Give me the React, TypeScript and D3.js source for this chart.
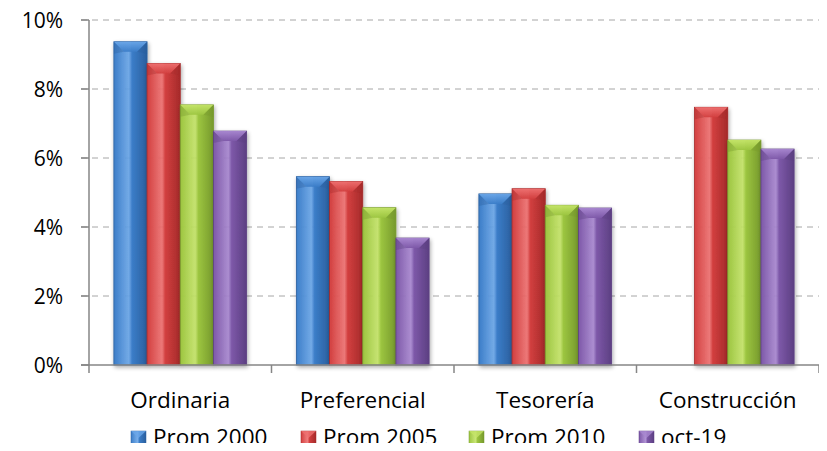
import React from "react";
import * as d3 from "d3";

const categories = ["Ordinaria", "Preferencial", "Tesorería", "Construcción"];
const seriesNames = ["Prom 2000", "Prom 2005", "Prom 2010", "oct-19"];
const prom2000: (number | null)[] = [9.37, 5.46, 4.96, null];
const prom2005: (number | null)[] = [8.74, 5.32, 5.11, 7.47];
const prom2010: (number | null)[] = [7.54, 4.56, 4.63, 6.52];
const oct19: (number | null)[] = [6.78, 3.68, 4.55, 6.26];
const yTicks = [0, 2, 4, 6, 8, 10];

const seriesValues = [prom2000, prom2005, prom2010, oct19];
const colors = [
  { base: "#3B7DC8", light: "#6AA6E8", dark: "#2A5F9E" },
  { base: "#D23F3F", light: "#EE7070", dark: "#A52A2A" },
  { base: "#9CC540", light: "#C4E468", dark: "#76992C" },
  { base: "#7D58A8", light: "#A887D0", dark: "#5C3F82" },
];

const W = 827;
const H = 451;
const left = 89;
const right = 819;
const top = 20;
const bottom = 365;
const FONT = "'Open Sans', Lato, sans-serif";

export default function App() {
  const x0 = d3.scaleBand<string>().domain(categories).range([left, right]).padding(0);
  const bw = x0.bandwidth();
  const gap = (bw * 0.75) / 5.5;
  const x1 = d3.scaleBand<string>().domain(seriesNames).range([gap, bw - gap]).padding(0);
  const y = d3.scaleLinear().domain([0, 10]).range([bottom, top]);

  const legendX = [131, 301, 469, 639];

  return (
    <div style={{ margin: -8 }}>
      <svg width={W} height={H} style={{ display: "block", background: "#fff" }}>
        <defs>
          {colors.map((c, i) => (
            <linearGradient key={i} id={`g${i}`} x1="0" x2="1" y1="0" y2="0">
              <stop offset="0" stopColor={c.base} />
              <stop offset="0.45" stopColor={c.light} stopOpacity={0.9} />
              <stop offset="0.55" stopColor={c.base} />
              <stop offset="1" stopColor={c.dark} />
            </linearGradient>
          ))}
          {colors.map((c, i) => (
            <linearGradient key={"v" + i} id={`v${i}`} x1="0" x2="0" y1="0" y2="1">
              <stop offset="0" stopColor={c.light} />
              <stop offset="1" stopColor={c.base} />
            </linearGradient>
          ))}
          <filter id="sh" x="-20%" y="-5%" width="140%" height="115%">
            <feGaussianBlur in="SourceAlpha" stdDeviation="2" />
            <feOffset dx="1" dy="2" result="b" />
            <feComponentTransfer>
              <feFuncA type="linear" slope="0.35" />
            </feComponentTransfer>
            <feMerge>
              <feMergeNode />
              <feMergeNode in="SourceGraphic" />
            </feMerge>
          </filter>
        </defs>

        {/* grid */}
        {yTicks.filter((t) => t > 0).map((t) => (
          <line key={t} x1={left - 8} x2={right} y1={y(t)} y2={y(t)} stroke="#A6A6A6" strokeWidth={1} strokeDasharray="6,5" />
        ))}

        {/* bars */}
        {categories.map((cat, ci) => (
          <g key={cat}>
            {seriesNames.map((s, si) => {
              const v = seriesValues[si][ci];
              if (v === null || v === undefined) return null;
              const bx = (x0(cat) as number) + (x1(s) as number);
              const w = x1.bandwidth();
              const by = y(v);
              const h = bottom - by;
              const c = colors[si];
              const bev = 10;
              return (
                <g key={s} filter="url(#sh)">
                  <rect x={bx} y={by} width={w} height={h} fill={`url(#g${si})`} stroke={c.dark} strokeWidth={0.8} />
                  <polygon
                    points={`${bx},${by} ${bx + w},${by} ${bx + w - bev},${by + bev} ${bx + bev},${by + bev}`}
                    fill={`url(#v${si})`}
                    opacity={0.95}
                  />
                  <polygon points={`${bx},${by} ${bx + bev},${by + bev} ${bx},${by + bev + 2}`} fill={c.dark} opacity={0.35} />
                  <polygon points={`${bx + w},${by} ${bx + w - bev},${by + bev} ${bx + w},${by + bev + 2}`} fill={c.dark} opacity={0.35} />
                </g>
              );
            })}
          </g>
        ))}

        {/* axes */}
        <line x1={left} x2={left} y1={top} y2={bottom} stroke="#868686" strokeWidth={1.5} />
        <line x1={left - 8} x2={right} y1={bottom} y2={bottom} stroke="#868686" strokeWidth={1.5} />
        {yTicks.map((t) => (
          <line key={"yt" + t} x1={left - 8} x2={left} y1={y(t)} y2={y(t)} stroke="#868686" strokeWidth={1.5} />
        ))}
        {[...categories.map((c) => x0(c) as number), right].map((xv, i) => (
          <line key={"xt" + i} x1={xv} x2={xv} y1={bottom} y2={bottom + 8} stroke="#868686" strokeWidth={1.5} />
        ))}

        {/* y labels */}
        {yTicks.map((t) => (
          <text key={"yl" + t} x={63} y={y(t) + 7.5} textAnchor="end" fontFamily={FONT} fontSize={21} fill="#000">
            {`${t}%`}
          </text>
        ))}

        {/* x labels */}
        {categories.map((c) => (
          <text key={"xl" + c} x={(x0(c) as number) + bw / 2} y={408} textAnchor="middle" fontFamily={FONT} fontSize={22.5} fill="#000">
            {c}
          </text>
        ))}

        {/* legend */}
        {seriesNames.map((s, i) => (
          <g key={"lg" + s}>
            <rect x={legendX[i]} y={431} width={15} height={14} fill={`url(#g${i})`} stroke={colors[i].dark} strokeWidth={0.5} />
            <polygon
              points={`${legendX[i]},${431} ${legendX[i] + 15},${431} ${legendX[i] + 7.5},${438}`}
              fill={colors[i].light}
              opacity={0.8}
            />
            <text x={legendX[i] + 22} y={445} fontFamily={FONT} fontSize={22.5} fill="#000">
              {s}
            </text>
          </g>
        ))}
      </svg>
    </div>
  );
}
